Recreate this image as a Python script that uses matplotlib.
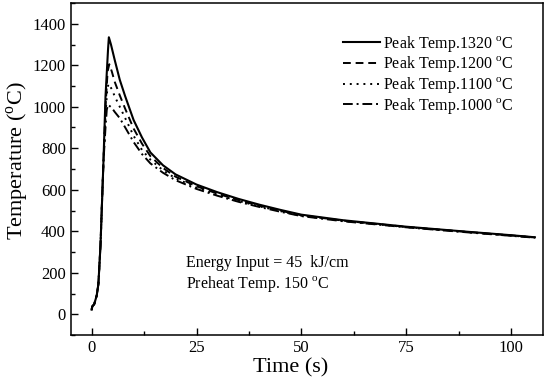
import matplotlib
matplotlib.use("Agg")
import matplotlib.pyplot as plt
from matplotlib.ticker import MultipleLocator

plt.rcParams['font.family'] = ['Liberation Serif', 'DejaVu Serif']
plt.rcParams['mathtext.fontset'] = 'custom'
plt.rcParams['mathtext.rm'] = 'Liberation Serif'

# Time (s) and temperature (oC) for each peak temperature
t_1320 = [0, 0.15, 0.6, 1.2, 1.6, 2.1, 2.8, 3.3, 3.9, 4.1, 4.6, 5.5, 6.7, 8, 10, 12, 14, 17, 20, 25, 30, 35, 40, 45, 50, 60, 75, 90, 100, 105.7]
T_1320 = [22, 38, 48, 90, 145, 330, 730, 1050, 1275, 1335, 1300, 1225, 1130, 1050, 936, 852, 780, 718, 674, 625, 588, 556, 528, 503, 480, 453, 422, 397, 381, 371]

t_1200 = [0, 0.15, 0.6, 1.2, 1.6, 2.1, 2.8, 3.3, 3.8, 4.2, 4.8, 5.5, 6.7, 8, 10, 12, 14, 17, 20, 25, 30, 35, 40, 45, 50, 60, 75, 90, 100, 105.7]
T_1200 = [22, 38, 48, 90, 145, 330, 730, 1000, 1170, 1205, 1170, 1120, 1055, 990, 895, 822, 762, 705, 663, 617, 581, 550, 523, 499, 477, 451, 421, 396, 380, 370]

t_1100 = [0, 0.15, 0.6, 1.2, 1.6, 2.1, 2.8, 3.3, 3.7, 4.0, 4.8, 5.5, 6.7, 8, 10, 12, 14, 17, 20, 25, 30, 35, 40, 45, 50, 60, 75, 90, 100, 105.7]
T_1100 = [22, 38, 48, 90, 145, 330, 730, 960, 1080, 1110, 1085, 1050, 1000, 945, 860, 792, 745, 694, 655, 611, 576, 546, 520, 497, 475, 450, 420, 395, 379, 370]

t_1000 = [0, 0.15, 0.6, 1.2, 1.6, 2.1, 2.8, 3.3, 3.6, 3.9, 4.8, 5.5, 6.7, 8, 10, 12, 14, 17, 20, 25, 30, 35, 40, 45, 50, 60, 75, 90, 100, 105.7]
T_1000 = [22, 38, 48, 90, 145, 330, 730, 900, 985, 1010, 995, 975, 945, 900, 830, 772, 727, 682, 646, 604, 571, 542, 517, 494, 473, 448, 419, 394, 378, 369]

labels = ['Peak Temp.1320 $^{\\rm o}$C', 'Peak Temp.1200 $^{\\rm o}$C',
          'Peak Temp.1100 $^{\\rm o}$C', 'Peak Temp.1000 $^{\\rm o}$C']

fig = plt.figure(figsize=(5.5, 3.86), dpi=100)
ax = fig.add_axes([70.7/550, 1-335/386, (543.3-70.7)/550, (335-3)/386])

ax.plot(t_1320, T_1320, color='black', lw=1.5, ls='-', label=labels[0])
ax.plot(t_1200, T_1200, color='black', lw=1.4, ls=(0, (4, 2.5)), label=labels[1])
ax.plot(t_1100, T_1100, color='black', lw=1.4, ls=(0, (1, 2.5)), label=labels[2])
ax.plot(t_1000, T_1000, color='black', lw=1.4, ls=(0, (5, 2, 1, 2)), label=labels[3])

ax.set_xlim(-5, 107.7)
ax.set_ylim(-100, 1500)
ax.xaxis.set_major_locator(MultipleLocator(25))
ax.xaxis.set_minor_locator(MultipleLocator(12.5))
ax.yaxis.set_major_locator(MultipleLocator(200))
ax.yaxis.set_minor_locator(MultipleLocator(100))
ax.tick_params(which='both', direction='in', labelsize=12, width=1)
ax.tick_params(which='major', length=5)
ax.tick_params(which='minor', length=3)
for s in ax.spines.values():
    s.set_linewidth(1.1)

ax.set_xlabel('Time (s)', fontsize=16)
ax.set_ylabel('Temperature ($^{\\rm o}$C)', fontsize=16)
ax.xaxis.set_label_coords(0.466, -0.07)
ax.yaxis.set_label_coords(-0.084, 0.524)

leg = ax.legend(loc='upper left', bbox_to_anchor=(0.576, 0.908), frameon=False,
                borderpad=0, borderaxespad=0,
                fontsize=11.5, handlelength=2.3, handletextpad=0.2, labelspacing=0.05)

ax.text(0.244, 0.217, 'Energy Input = 45  kJ/cm', transform=ax.transAxes, fontsize=11.5, va='center')
ax.text(0.244, 0.154, 'Preheat Temp. 150 $^{\\rm o}$C', transform=ax.transAxes, fontsize=11.5, va='center')

fig.savefig('out.png', dpi=100)
